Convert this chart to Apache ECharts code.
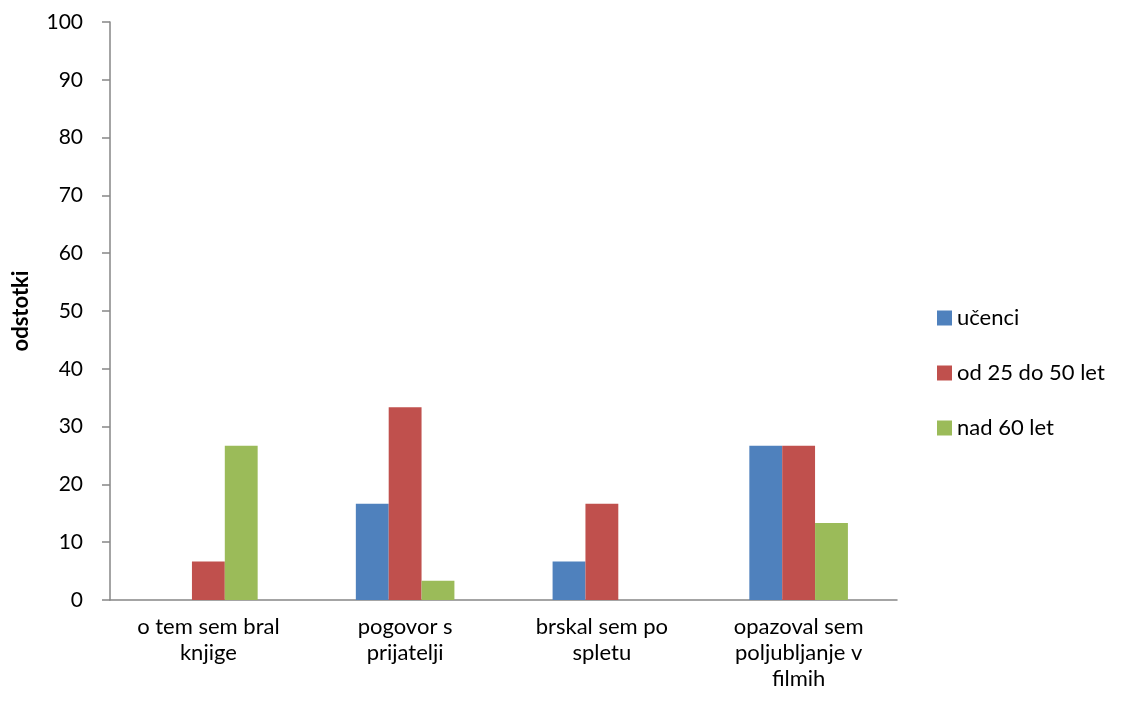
<!DOCTYPE html>
<html>
<head>
<meta charset="utf-8">
<script src="https://cdn.jsdelivr.net/npm/echarts@6/dist/echarts.min.js"></script>
<style>
html,body{margin:0;padding:0;background:#fff;}
#main{width:1126px;height:708px;}
</style>
</head>
<body>
<div id="main"></div>
<script>
var categories = ['o tem sem bral\nknjige', 'pogovor s\nprijatelji', 'brskal sem po\nspletu', 'opazoval sem\npoljubljanje v\nfilmih'];
var seriesNames = ['učenci', 'od 25 do 50 let', 'nad 60 let'];
var ucenci = [0, 16.67, 6.67, 26.67];
var od25do50 = [6.67, 33.33, 16.67, 26.67];
var nad60 = [26.67, 3.33, 0, 13.33];
var colors = ['#4F81BD', '#C0504D', '#9BBB59'];
var yTicks = [0, 100, 10];

var font = 'Lato, "Open Sans", sans-serif';
var chart = echarts.init(document.getElementById('main'));

var mk = function (name, data, i) {
    return {
        name: name,
        type: 'bar',
        data: data,
        barWidth: '16.7%',
        barGap: '0%',
        itemStyle: { color: colors[i] }
    };
};

chart.setOption({
    animation: false,
    backgroundColor: '#fff',
    textStyle: { fontFamily: font },
    grid: { left: 110, right: 229, top: 22, bottom: 108, containLabel: false },
    legend: {
        orient: 'vertical',
        left: 932,
        top: 302,
        itemWidth: 15,
        itemHeight: 15,
        itemGap: 33,
        icon: 'rect',
        textStyle: { fontSize: 22, color: '#000', fontFamily: font },
        data: seriesNames
    },
    xAxis: {
        type: 'category',
        data: categories,
        axisLine: { lineStyle: { color: '#868686', width: 1.5 } },
        axisTick: { show: false },
        axisLabel: {
            color: '#000',
            fontSize: 22,
            lineHeight: 26,
            margin: 14,
            interval: 0,
            fontFamily: font
        }
    },
    yAxis: {
        type: 'value',
        min: yTicks[0],
        max: yTicks[1],
        interval: yTicks[2],
        name: 'odstotki',
        nameLocation: 'middle',
        nameGap: 78,
        nameRotate: 90,
        nameTextStyle: { color: '#000', fontSize: 22, fontWeight: 'bold', fontFamily: font },
        axisLine: { show: true, lineStyle: { color: '#868686', width: 1.5 } },
        axisTick: { show: true, length: 8, lineStyle: { color: '#868686', width: 1.5 } },
        splitLine: { show: false },
        axisLabel: { color: '#000', fontSize: 21, margin: 27, fontFamily: font }
    },
    series: [
        mk(seriesNames[0], ucenci, 0),
        mk(seriesNames[1], od25do50, 1),
        mk(seriesNames[2], nad60, 2)
    ]
});
</script>
</body>
</html>
